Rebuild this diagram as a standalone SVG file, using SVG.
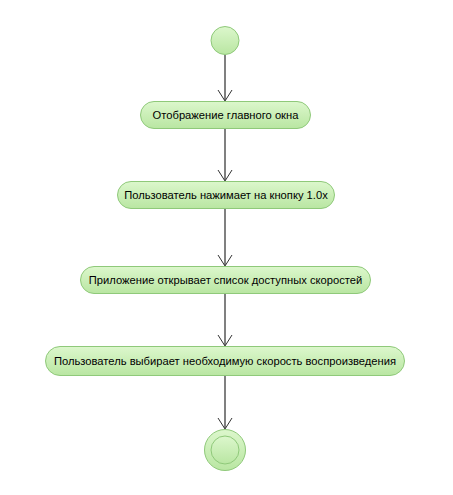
<svg xmlns="http://www.w3.org/2000/svg" width="453" height="495" viewBox="0 0 453 495">
<style>
.node{fill:url(#g);stroke:#8fc97a;stroke-width:1}
.lbl{font-family:"Liberation Sans",Arial,sans-serif;font-size:11.2px;fill:#000;text-anchor:middle;dominant-baseline:central}
.edge{stroke:#808080;stroke-width:2;fill:none}
.head{stroke:#333;stroke-width:1;fill:none}
</style>
<defs>
<linearGradient id="g" x1="0" y1="0" x2="0" y2="1">
<stop offset="0" stop-color="#dcf7cc"/>
<stop offset="1" stop-color="#b9e6a2"/>
</linearGradient>
</defs>
<rect width="453" height="495" fill="#fff"/>
<g id="connectors">
<line class="edge" x1="225" y1="55" x2="225" y2="100"/>
<polyline class="head" points="218,90 225,101 232,90"/>
<line class="edge" x1="225" y1="128" x2="225" y2="180"/>
<polyline class="head" points="218,170 225,181 232,170"/>
<line class="edge" x1="225" y1="208" x2="225" y2="265"/>
<polyline class="head" points="218,255 225,266 232,255"/>
<line class="edge" x1="225" y1="293" x2="225" y2="345"/>
<polyline class="head" points="218,335 225,346 232,335"/>
<line class="edge" x1="225" y1="375" x2="225" y2="428"/>
<polyline class="head" points="218,418 225,429 232,418"/>
</g>
<g id="start"><circle class="node" cx="225" cy="40.5" r="14"/></g>
<g id="n1"><rect class="node" x="140.5" y="101.5" width="170" height="27" rx="13.5"/><text class="lbl" x="225.5" y="115">Отображение главного окна</text></g>
<g id="n2"><rect class="node" x="117.5" y="181.5" width="217" height="27" rx="13.5"/><text class="lbl" x="226" y="195">Пользователь нажимает на кнопку 1.0x</text></g>
<g id="n3"><rect class="node" x="80.5" y="266.5" width="290" height="27" rx="13.5"/><text class="lbl" x="225.5" y="280">Приложение открывает список доступных скоростей</text></g>
<g id="n4"><rect class="node" x="45.5" y="346.5" width="359" height="29" rx="14.5"/><text class="lbl" x="225" y="361">Пользователь выбирает необходимую скорость воспроизведения</text></g>
<g id="end"><circle class="node" cx="225" cy="450" r="20.5"/><circle class="node" cx="225" cy="450" r="14"/></g>
</svg>
